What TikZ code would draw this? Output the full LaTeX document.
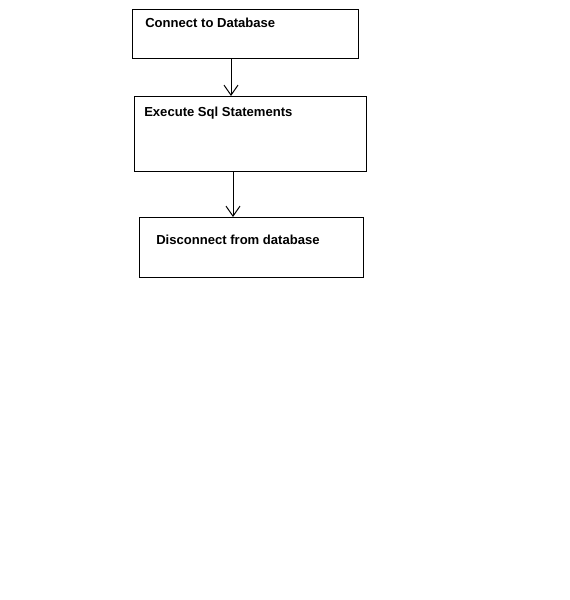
\documentclass[tikz,border=0pt]{standalone}
\usepackage{fontspec}
\setmainfont{Liberation Sans}
\usetikzlibrary{arrows.meta}
\begin{document}
\begin{tikzpicture}[x=0.75pt,y=-0.75pt,
  box/.style={draw=black,line width=0.75pt,fill=white,anchor=north west,inner sep=0pt,outer sep=0pt},
  lbl/.style={anchor=base west,inner sep=0pt,font=\bfseries\fontsize{9.8pt}{11pt}\selectfont},
  conn/.style={draw=black,line width=0.75pt,-{Straight Barb[length=7.5pt,width=10.5pt,line width=0.75pt]}}]
\useasboundingbox[fill=white] (0,0) rectangle (570,600);
\node[box,minimum width=169.5pt,minimum height=36.75pt] (b1) at (132,9) {};
\node[box,minimum width=174pt,minimum height=56.25pt] (b2) at (134,96) {};
\node[box,minimum width=168pt,minimum height=45pt] (b3) at (139,217) {};
\node[lbl] (t1) at (145,27) {Connect to Database};
\node[lbl] (t2) at (144,116) {Execute Sql Statements};
\node[lbl] (t3) at (156,244) {Disconnect from database};
\coordinate (b1s) at (231,58);
\coordinate (b2s) at (233,171);
\draw[conn] (b1s) -- (b1s |- b2.north);
\draw[conn] (b2s) -- (b2s |- b3.north);
\end{tikzpicture}
\end{document}
